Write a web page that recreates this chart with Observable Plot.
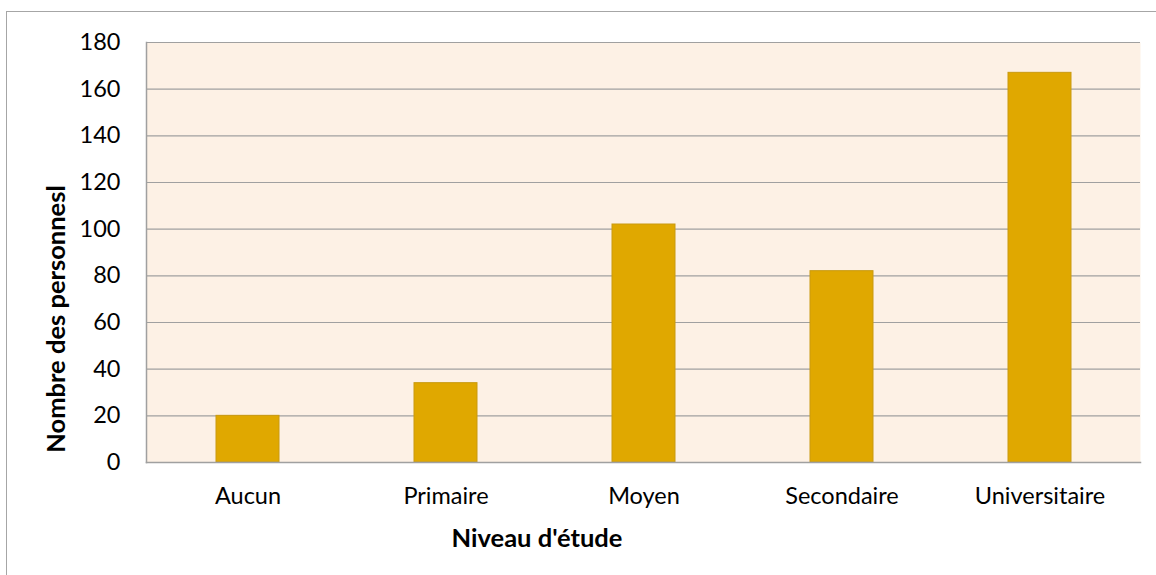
<!DOCTYPE html>
<html>
<head>
<meta charset="utf-8">
<script src="https://cdn.jsdelivr.net/npm/d3@7"></script>
<script src="https://cdn.jsdelivr.net/npm/@observablehq/plot@0.6"></script>
<style>
  html, body { margin: 0; padding: 0; background: #fff; overflow: hidden; }
  #wrap { position: relative; width: 1156px; height: 575px; overflow: hidden; }
  #frame { position: absolute; left: 6px; top: 11px; width: 1200px; height: 620px;
           border: 1.5px solid #a6a6a6; box-sizing: border-box; pointer-events: none; }
  #chart { position: absolute; left: 0; top: 0; }
</style>
</head>
<body>
<div id="wrap"><div id="frame"></div><div id="chart"></div></div>
<script>
const categories = ["Aucun", "Primaire", "Moyen", "Secondaire", "Universitaire"];
const values = [20, 34, 102, 82, 167];
const yTicks = [0, 20, 40, 60, 80, 100, 120, 140, 160, 180];
const xTitle = "Niveau d'étude";
const yTitle = "Nombre des personnesl";

const data = categories.map((c, i) => ({ category: c, value: values[i] }));

const font = "Lato, 'Open Sans', sans-serif";

const chart = Plot.plot({
  width: 1156,
  height: 575,
  marginLeft: 146,
  marginRight: 16,
  marginTop: 42,
  marginBottom: 113,
  style: { fontFamily: font, fontSize: "23.5px", color: "#000", background: "transparent", overflow: "visible" },
  x: { domain: categories, paddingInner: 0.683, paddingOuter: 0.342, label: null },
  y: { domain: [0, 180], label: null },
  marks: [
    Plot.frame({ fill: "#fdf1e5", stroke: null }),
    Plot.gridY(yTicks, { stroke: "#a0a0a0", strokeOpacity: 1, strokeWidth: 1.2 }),
    Plot.barY(data, { x: "category", y: "value", fill: "#e0a800", stroke: "#c99a10", strokeWidth: 1 }),
    Plot.frame({ anchor: "left", stroke: "#a0a0a0", strokeWidth: 1.5 }),
    Plot.frame({ anchor: "bottom", stroke: "#a0a0a0", strokeWidth: 1.5 }),
    Plot.axisY({ ticks: yTicks, tickSize: 0, tickPadding: 26, label: null, fontSize: 23.5 }),
    Plot.axisX({ tickSize: 0, tickPadding: 25, label: null, fontSize: 23.5 })
  ]
});

const svg = d3.select(chart);
svg.append("text")
  .attr("x", 537).attr("y", 547)
  .attr("text-anchor", "middle")
  .attr("font-family", font).attr("font-size", 25.5).attr("font-weight", "bold")
  .attr("fill", "#000")
  .text(xTitle);
svg.append("text")
  .attr("transform", "translate(65,319) rotate(-90)")
  .attr("text-anchor", "middle")
  .attr("font-family", font).attr("font-size", 25.5).attr("font-weight", "bold")
  .attr("fill", "#000")
  .text(yTitle);

document.getElementById("chart").appendChild(chart);
</script>
</body>
</html>
